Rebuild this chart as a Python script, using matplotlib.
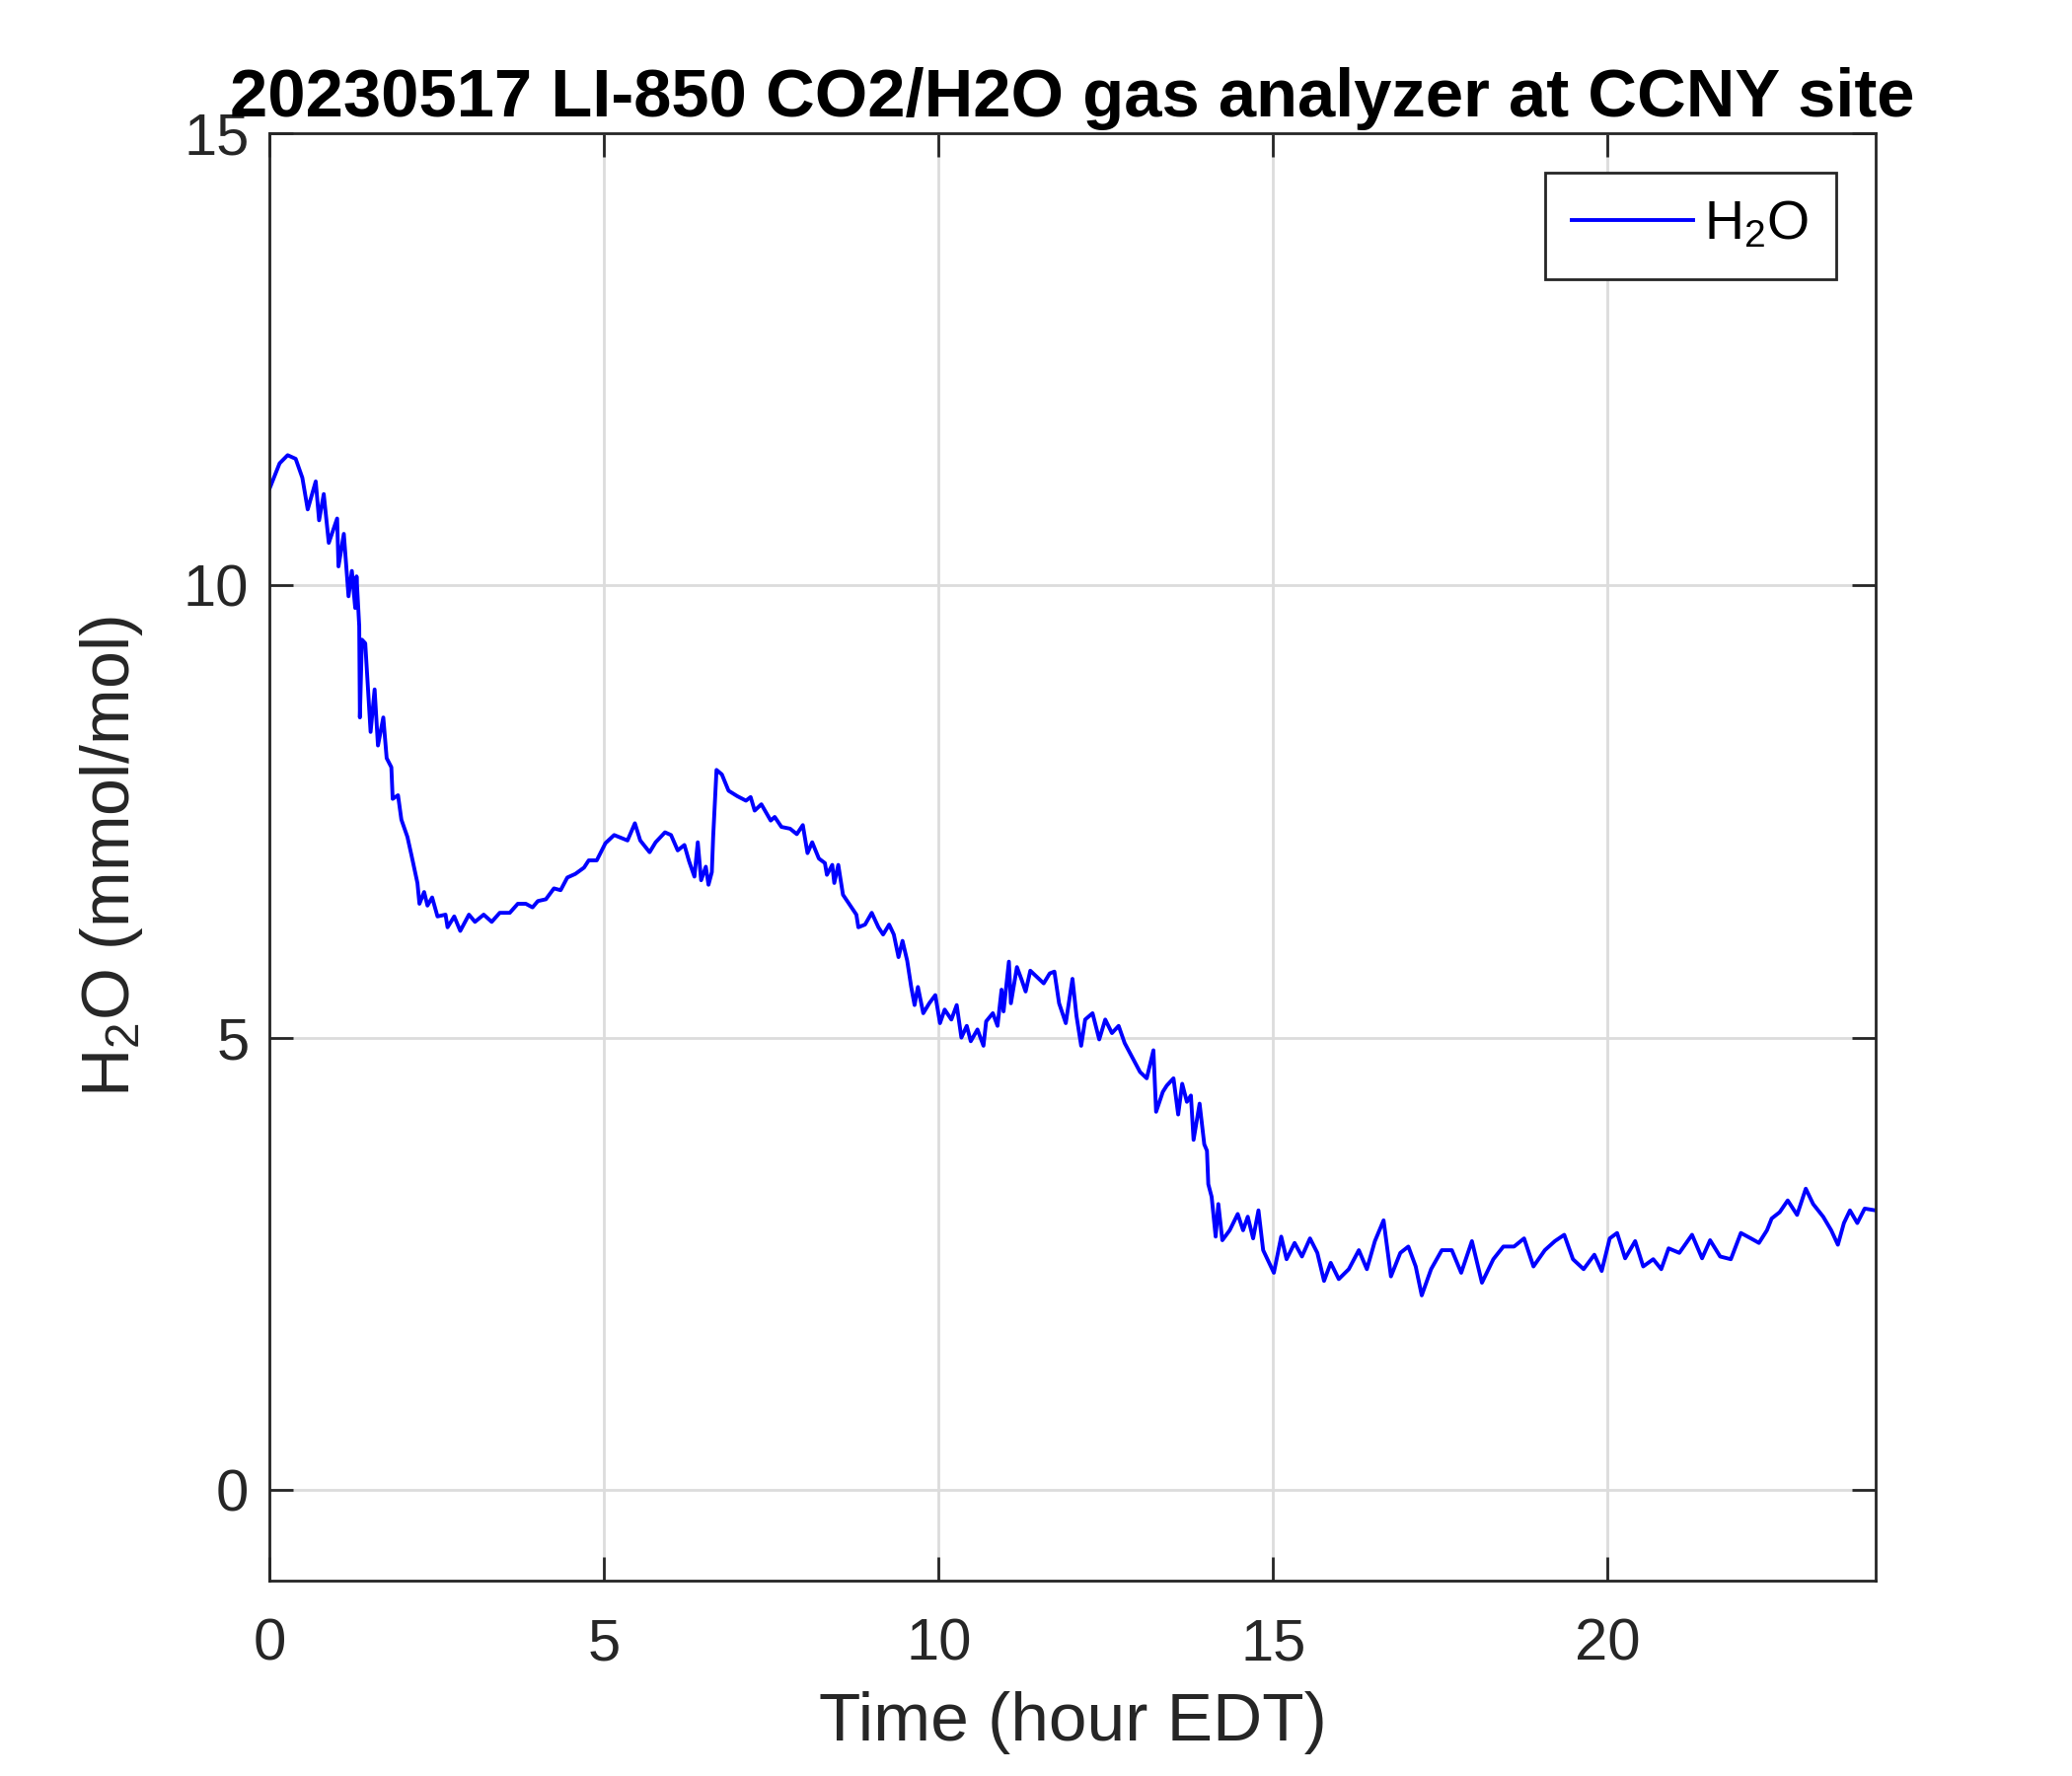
import numpy as np
import matplotlib
matplotlib.use('Agg')
import matplotlib.pyplot as plt

matplotlib.rcParams['font.family'] = ['Liberation Sans', 'DejaVu Sans']
matplotlib.rcParams['mathtext.fontset'] = 'custom'
matplotlib.rcParams['mathtext.rm'] = 'Liberation Sans'
matplotlib.rcParams['mathtext.default'] = 'regular'

# time (hour EDT) and H2O (mmol/mol)
hours = [0.00, 0.15, 0.27, 0.39, 0.49, 0.57, 0.69, 0.74, 0.81, 0.885,
         1.01, 1.03, 1.11, 1.18, 1.23, 1.28, 1.30, 1.34, 1.35, 1.38,
         1.43, 1.51, 1.57, 1.62, 1.70, 1.75, 1.82, 1.84, 1.92, 1.97,
         2.06, 2.12, 2.21, 2.24, 2.31, 2.36, 2.43, 2.51, 2.63, 2.66,
         2.76, 2.85, 2.98, 3.07, 3.20, 3.32, 3.44, 3.59, 3.71, 3.83,
         3.93, 4.01, 4.13, 4.25, 4.35, 4.45, 4.57, 4.70, 4.77, 4.89,
         5.02, 5.15, 5.35, 5.46, 5.54, 5.68, 5.77, 5.91, 6.00, 6.10,
         6.20, 6.27, 6.35, 6.40, 6.45, 6.52, 6.56, 6.61, 6.63, 6.68,
         6.76, 6.86, 6.99, 7.12, 7.19, 7.25, 7.35, 7.49, 7.55, 7.65,
         7.78, 7.88, 7.97, 8.04, 8.11, 8.21, 8.30, 8.33, 8.41, 8.44,
         8.50, 8.57, 8.67, 8.77, 8.80, 8.90, 9.00, 9.10, 9.17, 9.26,
         9.33, 9.40, 9.46, 9.53, 9.59, 9.64, 9.69, 9.77, 9.86, 9.95,
         10.02, 10.09, 10.19, 10.27, 10.34, 10.42, 10.48, 10.58, 10.67, 10.71,
         10.81, 10.88, 10.94, 10.97, 11.05, 11.08, 11.17, 11.24, 11.30, 11.37,
         11.47, 11.57, 11.66, 11.73, 11.80, 11.90, 12.00, 12.06, 12.13, 12.19,
         12.30, 12.40, 12.49, 12.59, 12.69, 12.78, 12.88, 13.01, 13.11, 13.21,
         13.25, 13.35, 13.41, 13.51, 13.58, 13.64, 13.71, 13.77, 13.81, 13.90,
         13.97, 14.01, 14.03, 14.08, 14.14, 14.18, 14.24, 14.35, 14.47, 14.55,
         14.62, 14.70, 14.78, 14.85, 15.01, 15.12, 15.20, 15.32, 15.43, 15.55,
         15.66, 15.76, 15.86, 15.98, 16.13, 16.28, 16.40, 16.52, 16.65, 16.76,
         16.90, 17.02, 17.13, 17.22, 17.36, 17.52, 17.67, 17.81, 17.97, 18.12,
         18.29, 18.44, 18.60, 18.75, 18.89, 19.06, 19.21, 19.35, 19.48, 19.64,
         19.80, 19.91, 20.03, 20.14, 20.26, 20.41, 20.53, 20.68, 20.80, 20.91,
         21.07, 21.26, 21.41, 21.53, 21.68, 21.84, 21.99, 22.14, 22.26, 22.38,
         22.45, 22.57, 22.69, 22.83, 22.96, 23.07, 23.22, 23.34, 23.44, 23.53,
         23.62, 23.73, 23.84, 24.00]

h2o = [11.07, 11.35, 11.44, 11.40, 11.19, 10.84, 11.15, 10.72, 11.01, 10.47,
       10.74, 10.21, 10.57, 9.88, 10.16, 9.75, 10.10, 9.55, 8.54, 9.40,
       9.36, 8.38, 8.85, 8.23, 8.54, 8.09, 7.99, 7.64, 7.68, 7.41,
       7.22, 7.02, 6.71, 6.48, 6.61, 6.46, 6.55, 6.34, 6.36, 6.22,
       6.34, 6.18, 6.36, 6.28, 6.36, 6.28, 6.38, 6.38, 6.48, 6.48,
       6.44, 6.51, 6.53, 6.65, 6.63, 6.77, 6.81, 6.88, 6.96, 6.96,
       7.15, 7.24, 7.18, 7.37, 7.18, 7.05, 7.16, 7.27, 7.24, 7.07,
       7.13, 6.95, 6.78, 7.16, 6.74, 6.89, 6.69, 6.83, 7.22, 7.96,
       7.91, 7.73, 7.67, 7.62, 7.66, 7.51, 7.58, 7.40, 7.44, 7.33,
       7.31, 7.25, 7.35, 7.04, 7.16, 6.98, 6.93, 6.80, 6.91, 6.71,
       6.91, 6.58, 6.47, 6.36, 6.22, 6.25, 6.38, 6.22, 6.14, 6.25,
       6.14, 5.89, 6.07, 5.85, 5.56, 5.36, 5.56, 5.27, 5.38, 5.47,
       5.16, 5.31, 5.20, 5.36, 5.00, 5.13, 4.96, 5.09, 4.91, 5.18,
       5.27, 5.13, 5.53, 5.29, 5.84, 5.38, 5.78, 5.64, 5.51, 5.74,
       5.67, 5.60, 5.71, 5.73, 5.38, 5.16, 5.65, 5.24, 4.91, 5.20,
       5.27, 4.98, 5.20, 5.05, 5.13, 4.94, 4.80, 4.62, 4.55, 4.86,
       4.18, 4.40, 4.47, 4.55, 4.15, 4.49, 4.29, 4.36, 3.87, 4.27,
       3.82, 3.75, 3.38, 3.24, 2.80, 3.16, 2.76, 2.87, 3.05, 2.87,
       3.02, 2.78, 3.09, 2.65, 2.40, 2.80, 2.55, 2.73, 2.58, 2.78,
       2.62, 2.31, 2.51, 2.33, 2.44, 2.65, 2.44, 2.75, 2.98, 2.36,
       2.62, 2.69, 2.47, 2.15, 2.44, 2.65, 2.65, 2.40, 2.75, 2.29,
       2.55, 2.69, 2.69, 2.78, 2.47, 2.65, 2.75, 2.82, 2.55, 2.44,
       2.60, 2.42, 2.78, 2.84, 2.56, 2.75, 2.47, 2.55, 2.44, 2.67,
       2.62, 2.82, 2.56, 2.76, 2.58, 2.55, 2.84, 2.78, 2.73, 2.87,
       3.00, 3.07, 3.20, 3.04, 3.33, 3.16, 3.02, 2.87, 2.71, 2.95,
       3.09, 2.95, 3.11, 3.09]

xticks = [0, 5, 10, 15, 20]
yticks = [0, 5, 10, 15]

axcol = '#262626'
lw = 2

fig = plt.figure(figsize=(21, 18), dpi=100)
ax = fig.add_axes([0.1301, 0.1102, 0.7750, 0.8148])

ax.plot(hours, h2o, '-', color=(0, 0, 1), linewidth=2.8, label='H$_2$O')

ax.set_xlim(0, 24)
ax.set_ylim(-1, 15)
ax.set_xticks(xticks)
ax.set_yticks(yticks)
ax.grid(True, color='#dcdcdc', linewidth=2)
ax.set_axisbelow(True)

ax.tick_params(axis='both', which='both', direction='in', length=17, width=lw,
               colors=axcol, labelsize=43, top=True, right=True)
ax.tick_params(axis='x', pad=27)
ax.tick_params(axis='y', pad=15)
for s in ax.spines.values():
    s.set_color(axcol)
    s.set_linewidth(lw)

ax.set_xlabel('Time (hour EDT)', fontsize=50, color=axcol, labelpad=14)
ax.set_ylabel('H$_2$O (mmol/mol)', fontsize=49, color=axcol, labelpad=28)
ax.set_title('20230517 LI-850 CO2/H2O gas analyzer at CCNY site',
             fontsize=49.5, fontweight='bold', color='black', pad=12)

leg = ax.legend(loc='upper right', fontsize=40, handlelength=2.2,
                fancybox=False, framealpha=1, borderaxespad=0.72,
                handletextpad=0.2, borderpad=0.5)
leg.get_frame().set_edgecolor(axcol)
leg.get_frame().set_linewidth(lw)

plt.savefig('out.png', dpi=100)
plt.close()
